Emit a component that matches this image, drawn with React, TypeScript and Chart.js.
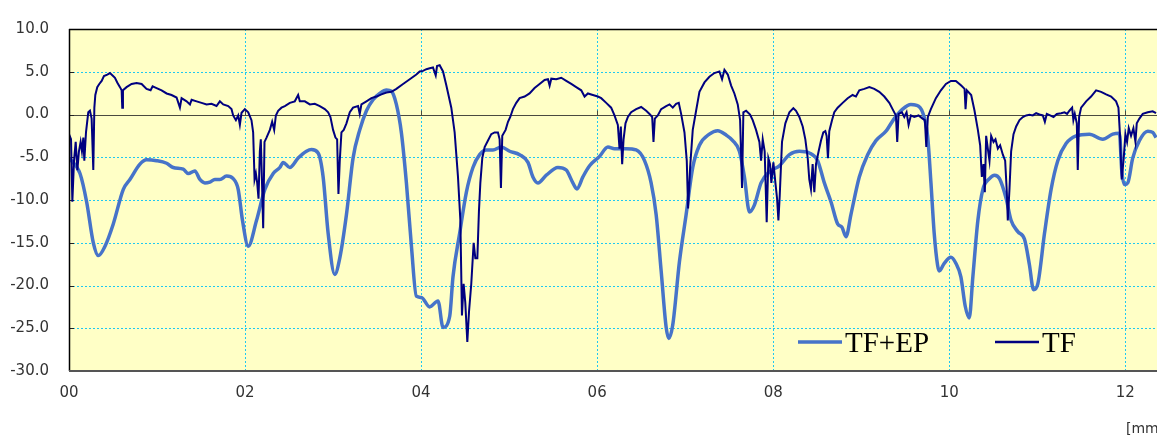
import { useEffect, useRef } from "react";
import { Chart, registerables } from "chart.js";

Chart.register(...registerables);

// Series names as shown in the legend
const seriesNames = ["TF+EP", "TF"];
const seriesColors = ["#4673C9", "#000080"];

// Axis ranges and steps
const xMin = 0;
const xMax = 12.36;
const xStep = 2;
const yMin = -30;
const yMax = 10;
const yStep = 5;
const xUnitLabel = "[mm]";

// TF+EP trace: [position, value]
const tfEpTrace: [number, number][] = [
  [0, -5.07], [0.125, -6.9], [0.2, -10.2], [0.276, -15.0], [0.333, -16.5],
  [0.409, -15.4], [0.503, -12.8], [0.617, -8.75], [0.692, -7.6], [0.806, -5.8],
  [0.882, -5.3], [0.995, -5.4], [1.109, -5.7], [1.184, -6.2], [1.298, -6.4],
  [1.355, -6.9], [1.43, -6.6], [1.487, -7.6], [1.544, -8.0], [1.6, -7.9],
  [1.657, -7.6], [1.714, -7.6], [1.79, -7.2], [1.865, -7.5], [1.922, -8.75],
  [1.971, -12.4], [2.036, -15.4], [2.13, -12.4], [2.225, -8.75], [2.32, -6.9],
  [2.395, -6.2], [2.433, -5.6], [2.508, -6.2], [2.603, -5.1], [2.698, -4.3],
  [2.754, -4.1], [2.83, -4.5], [2.887, -7.3], [2.944, -13.9], [3.019, -18.7],
  [3.076, -16.8], [3.152, -11.7], [3.227, -5.1], [3.303, -1.8], [3.379, 0.44],
  [3.454, 1.73], [3.53, 2.46], [3.606, 2.87], [3.663, 2.72], [3.719, 1.18],
  [3.776, -2.13], [3.833, -8.0], [3.89, -15.4], [3.946, -21.25], [4.003, -21.4],
  [4.097, -22.5], [4.192, -21.8], [4.249, -24.9], [4.325, -23.6], [4.362, -19.0],
  [4.438, -13.9], [4.514, -9.1], [4.589, -6.2], [4.665, -4.7], [4.741, -4.15],
  [4.816, -4.15], [4.911, -3.8], [5.006, -4.3], [5.119, -4.7], [5.214, -5.6],
  [5.27, -7.3], [5.327, -8.0], [5.422, -7.1], [5.554, -6.2], [5.649, -6.5],
  [5.724, -8.0], [5.77, -8.7], [5.838, -7.3], [5.914, -6.0], [6.027, -4.9],
  [6.122, -3.8], [6.197, -4.0], [6.33, -4.0], [6.443, -4.15], [6.538, -5.4],
  [6.613, -8.0], [6.67, -11.7], [6.727, -18.3], [6.784, -24.9], [6.814, -26.2],
  [6.859, -24.6], [6.935, -17.2], [7.011, -11.7], [7.086, -6.2], [7.162, -3.6],
  [7.275, -2.3], [7.37, -1.9], [7.465, -2.4], [7.54, -3.05], [7.616, -4.3],
  [7.673, -7.3], [7.73, -11.4], [7.786, -10.6], [7.862, -8.0], [7.957, -6.7],
  [8.07, -6.0], [8.184, -4.7], [8.297, -4.3], [8.41, -4.5], [8.505, -5.4],
  [8.581, -8.0], [8.656, -10.2], [8.732, -12.8], [8.781, -13.2], [8.827, -14.3],
  [8.883, -11.7], [8.978, -7.3], [9.073, -4.7], [9.167, -3.05], [9.281, -1.95],
  [9.375, -0.48], [9.47, 0.63], [9.564, 1.18], [9.621, 1.1], [9.697, 0.26],
  [9.754, -2.5], [9.792, -8.0], [9.829, -13.9], [9.867, -17.6], [9.886, -18.3],
  [9.943, -17.4], [10.019, -16.7], [10.075, -17.4], [10.132, -19.0], [10.181, -22.4],
  [10.227, -23.8], [10.268, -19.0], [10.325, -12.4], [10.382, -8.75], [10.457, -7.5],
  [10.514, -7.1], [10.571, -7.5], [10.647, -9.85], [10.703, -12.4], [10.779, -13.7],
  [10.855, -14.6], [10.911, -17.6], [10.957, -20.5], [11.006, -19.8], [11.082, -13.9],
  [11.157, -8.75], [11.233, -5.4], [11.327, -3.4], [11.441, -2.5], [11.592, -2.3],
  [11.744, -2.9], [11.857, -2.3], [11.933, -2.2], [11.959, -6.5], [11.99, -8.2],
  [12.028, -8.0], [12.084, -5.1], [12.16, -3.05], [12.255, -1.95], [12.311, -2.1],
  [12.349, -2.7],
];

// TF trace: [position, value]
const tfTrace: [number, number][] = [
  [0, -2.3], [0.023, -2.9], [0.038, -10.2], [0.057, -5.4], [0.076, -3.2],
  [0.095, -6.5], [0.113, -4.3], [0.132, -3.2], [0.147, -4.3], [0.163, -2.7],
  [0.174, -5.4], [0.193, -2.1], [0.219, 0.26], [0.238, 0.44], [0.257, -0.48],
  [0.276, -6.5], [0.288, 0.8], [0.299, 2.28], [0.321, 3.2], [0.344, 3.57],
  [0.371, 3.93], [0.397, 4.49], [0.435, 4.67], [0.465, 4.85], [0.495, 4.56],
  [0.522, 4.3], [0.548, 3.75], [0.579, 3.2], [0.598, 2.83], [0.605, 0.8],
  [0.613, 2.83], [0.654, 3.2], [0.711, 3.57], [0.768, 3.68], [0.825, 3.57],
  [0.881, 3.0], [0.927, 2.83], [0.95, 3.3], [0.995, 3.09], [1.052, 2.83],
  [1.109, 2.46], [1.165, 2.28], [1.222, 1.99], [1.26, 0.8], [1.279, 1.91],
  [1.336, 1.54], [1.374, 1.18], [1.393, 1.73], [1.45, 1.54], [1.506, 1.36],
  [1.563, 1.18], [1.619, 1.25], [1.676, 0.99], [1.714, 1.54], [1.752, 1.18],
  [1.809, 0.99], [1.846, 0.63], [1.865, -0.11], [1.896, -0.66], [1.922, -0.11],
  [1.941, -1.21], [1.96, 0.2], [1.998, 0.63], [2.036, 0.26], [2.073, -0.66],
  [2.092, -2.1], [2.108, -7.6], [2.123, -6.9], [2.138, -8.0], [2.153, -9.85],
  [2.168, -4.3], [2.179, -2.9], [2.191, -7.3], [2.206, -13.3], [2.221, -3.2],
  [2.244, -2.7], [2.282, -1.8], [2.308, -0.85], [2.331, -1.8], [2.35, -0.11],
  [2.376, 0.44], [2.414, 0.8], [2.452, 0.99], [2.509, 1.36], [2.565, 1.54],
  [2.603, 2.28], [2.622, 1.54], [2.679, 1.54], [2.736, 1.18], [2.792, 1.25],
  [2.849, 0.99], [2.906, 0.63], [2.944, 0.26], [2.97, -0.29], [3.0, -1.8],
  [3.027, -2.7], [3.046, -2.9], [3.061, -9.3], [3.076, -5.4], [3.095, -2.1],
  [3.121, -1.8], [3.152, -1.03], [3.19, 0.26], [3.227, 0.8], [3.284, 0.99],
  [3.303, 0.07], [3.322, 1.18], [3.379, 1.54], [3.435, 1.91], [3.492, 2.1],
  [3.549, 2.35], [3.606, 2.57], [3.663, 2.65], [3.719, 3.0], [3.795, 3.57],
  [3.871, 4.12], [3.946, 4.67], [3.984, 5.04], [4.022, 5.1], [4.06, 5.3],
  [4.098, 5.4], [4.135, 5.5], [4.166, 4.56], [4.181, 5.66], [4.211, 5.77],
  [4.249, 5.04], [4.287, 3.38], [4.343, 0.8], [4.381, -2.1], [4.419, -7.3],
  [4.446, -12.4], [4.464, -23.5], [4.483, -19.8], [4.502, -22.0], [4.525, -26.6],
  [4.544, -23.1], [4.57, -19.8], [4.597, -15.0], [4.616, -16.8], [4.639, -16.8],
  [4.657, -11.3], [4.673, -8.0], [4.695, -5.1], [4.722, -3.8], [4.76, -3.05],
  [4.797, -2.3], [4.835, -2.1], [4.873, -2.1], [4.892, -2.9], [4.907, -8.6],
  [4.922, -2.5], [4.96, -1.8], [4.987, -0.85], [5.013, -0.29], [5.043, 0.63],
  [5.081, 1.36], [5.119, 1.91], [5.176, 2.1], [5.232, 2.46], [5.289, 3.09],
  [5.346, 3.57], [5.403, 4.04], [5.441, 4.12], [5.46, 3.38], [5.479, 4.19],
  [5.535, 4.12], [5.592, 4.3], [5.649, 3.93], [5.706, 3.57], [5.762, 3.2],
  [5.819, 2.83], [5.857, 2.1], [5.895, 2.46], [5.951, 2.28], [6.008, 2.1],
  [6.046, 1.91], [6.103, 1.36], [6.159, 0.8], [6.197, -0.11], [6.235, -1.21],
  [6.254, -4.0], [6.269, -1.4], [6.284, -5.8], [6.3, -2.9], [6.322, -1.03],
  [6.349, -0.29], [6.386, 0.26], [6.443, 0.63], [6.5, 0.88], [6.557, 0.44],
  [6.595, 0.07], [6.625, -0.29], [6.64, -3.2], [6.655, -0.48], [6.689, -0.11],
  [6.727, 0.63], [6.784, 0.99], [6.822, 1.18], [6.859, 0.8], [6.897, 1.25],
  [6.927, 1.36], [6.954, 0.07], [6.992, -2.1], [7.018, -5.4], [7.033, -11.0],
  [7.056, -6.2], [7.086, -1.8], [7.124, 0.44], [7.162, 2.65], [7.219, 3.75],
  [7.275, 4.41], [7.332, 4.85], [7.389, 5.04], [7.419, 4.12], [7.446, 5.22],
  [7.484, 4.67], [7.522, 3.38], [7.559, 2.46], [7.597, 1.18], [7.624, -0.66],
  [7.646, -8.6], [7.661, 0.26], [7.692, 0.44], [7.737, 0], [7.767, -0.66],
  [7.805, -1.8], [7.843, -3.2], [7.862, -5.4], [7.881, -2.9], [7.903, -4.3],
  [7.926, -12.6], [7.945, -5.1], [7.964, -5.8], [7.979, -8.0], [8.002, -5.6],
  [8.025, -8.0], [8.044, -9.85], [8.059, -12.4], [8.074, -9.5], [8.1, -3.2],
  [8.138, -1.03], [8.184, 0.26], [8.229, 0.74], [8.259, 0.44], [8.297, -0.29],
  [8.335, -1.4], [8.365, -2.9], [8.392, -5.1], [8.41, -7.6], [8.429, -8.75],
  [8.448, -5.8], [8.467, -9.1], [8.486, -5.8], [8.516, -4.3], [8.543, -3.05],
  [8.569, -2.1], [8.592, -1.95], [8.607, -2.5], [8.622, -5.1], [8.637, -1.95],
  [8.668, -0.66], [8.694, 0.26], [8.732, 0.8], [8.789, 1.36], [8.846, 1.91],
  [8.902, 2.28], [8.94, 2.1], [8.978, 2.83], [9.035, 3.0], [9.092, 3.2],
  [9.148, 3.0], [9.205, 2.65], [9.262, 2.1], [9.319, 1.36], [9.356, 0.63],
  [9.394, -0.11], [9.409, -3.2], [9.424, 0.07], [9.462, 0.26], [9.489, -0.29],
  [9.515, 0.26], [9.538, -1.21], [9.564, -0.11], [9.602, -0.29], [9.651, -0.11],
  [9.697, -0.48], [9.723, -0.66], [9.739, -3.8], [9.757, -0.29], [9.791, 0.63],
  [9.848, 1.91], [9.905, 2.83], [9.962, 3.57], [10.019, 3.93], [10.075, 3.93],
  [10.136, 3.38], [10.174, 3.0], [10.185, 0.63], [10.2, 2.83], [10.249, 2.28],
  [10.287, 0.44], [10.325, -1.8], [10.351, -3.6], [10.37, -7.3], [10.389, -5.8],
  [10.404, -9.1], [10.419, -2.5], [10.438, -4.0], [10.457, -5.4], [10.476, -2.5],
  [10.503, -3.2], [10.525, -2.9], [10.552, -4.0], [10.578, -3.6], [10.609, -4.7],
  [10.635, -5.4], [10.654, -9.1], [10.665, -12.4], [10.684, -8.75], [10.703, -4.3],
  [10.73, -2.3], [10.76, -1.4], [10.798, -0.66], [10.836, -0.29], [10.874, -0.11],
  [10.911, -0.04], [10.949, -0.11], [10.987, 0.15], [11.025, 0], [11.063, -0.11],
  [11.086, -0.85], [11.108, 0.07], [11.146, -0.11], [11.184, -0.29], [11.222, 0.07],
  [11.271, 0.15], [11.309, 0.26], [11.339, 0.07], [11.365, 0.44], [11.396, 0.8],
  [11.41, -0.66], [11.426, 0.07], [11.449, -1.03], [11.46, -6.5], [11.475, -0.29],
  [11.498, 0.8], [11.555, 1.54], [11.611, 2.1], [11.668, 2.83], [11.725, 2.65],
  [11.782, 2.35], [11.839, 2.1], [11.895, 1.54], [11.922, 0.8], [11.94, -2.5],
  [11.959, -7.6], [11.982, -5.1], [12.001, -2.3], [12.02, -3.2], [12.039, -1.6],
  [12.065, -2.5], [12.092, -1.6], [12.115, -3.2], [12.13, -1.03], [12.16, -0.48],
  [12.198, 0.07], [12.255, 0.26], [12.311, 0.37], [12.349, 0.15],
];

const WIDTH = 1157;
const HEIGHT = 439;
const PLOT_BG = "#FFFFC6";
const GRID_COLOR = "#1EC8F2";
const TICK_FONT = "'DejaVu Sans', sans-serif";
const LEGEND_FONT = "'Liberation Serif', 'Times New Roman', serif";

function line(ctx: CanvasRenderingContext2D, x1: number, y1: number, x2: number, y2: number) {
  ctx.beginPath();
  ctx.moveTo(x1, y1);
  ctx.lineTo(x2, y2);
  ctx.stroke();
}

const plotDecor = {
  id: "plotDecor",
  beforeDraw(chart: any) {
    const { ctx, chartArea: a } = chart;
    ctx.save();
    ctx.fillStyle = PLOT_BG;
    ctx.fillRect(a.left, a.top, a.right - a.left, a.bottom - a.top);
    ctx.restore();
  },
  beforeDatasetsDraw(chart: any) {
    const { ctx, chartArea: a } = chart;
    const xs = chart.scales.x;
    const ys = chart.scales.y;
    ctx.save();
    // dotted grid
    ctx.strokeStyle = GRID_COLOR;
    ctx.lineWidth = 1;
    ctx.setLineDash([2, 2]);
    for (const t of ys.ticks) {
      if (t.value === 0 || t.value <= yMin || t.value >= yMax) continue;
      const py = Math.round(ys.getPixelForValue(t.value)) + 0.5;
      line(ctx, a.left, py, a.right, py);
    }
    for (const t of xs.ticks) {
      if (t.value <= xMin) continue;
      const px = Math.round(xs.getPixelForValue(t.value)) + 0.5;
      line(ctx, px, a.top, px, a.bottom);
    }
    ctx.setLineDash([]);
    // zero line
    const zy = Math.round(ys.getPixelForValue(0)) + 0.5;
    ctx.strokeStyle = "#4a4a40";
    ctx.lineWidth = 1.2;
    line(ctx, a.left, zy, a.right, zy);
    // small marks on the zero line
    ctx.lineWidth = 1;
    for (const t of xs.ticks) {
      const px = Math.round(xs.getPixelForValue(t.value)) + 0.5;
      line(ctx, px, zy - 5, px, zy);
    }
    // inward marks on the value axis
    ctx.strokeStyle = "#222";
    for (const t of ys.ticks) {
      const py = Math.round(ys.getPixelForValue(t.value)) + 0.5;
      line(ctx, a.left, py, a.left + 5, py);
    }
    ctx.restore();
  },
  afterDatasetsDraw(chart: any) {
    const { ctx, chartArea: a } = chart;
    ctx.save();
    ctx.strokeStyle = "#000";
    ctx.lineWidth = 1.5;
    line(ctx, a.left, a.top + 0.5, a.right, a.top + 0.5);
    line(ctx, a.left + 0.5, a.top, a.left + 0.5, a.bottom);
    ctx.strokeStyle = "#555";
    ctx.lineWidth = 2;
    line(ctx, a.left, a.bottom, a.right, a.bottom);
    ctx.restore();
  },
  afterDraw(chart: any) {
    const { ctx } = chart;
    ctx.save();
    // legend inside the plot
    const entries = [
      { x: 798, label: seriesNames[0], color: seriesColors[0], width: 3.5 },
      { x: 995, label: seriesNames[1], color: seriesColors[1], width: 2.5 },
    ];
    ctx.font = `29px ${LEGEND_FONT}`;
    ctx.textBaseline = "alphabetic";
    ctx.textAlign = "left";
    for (const e of entries) {
      ctx.strokeStyle = e.color;
      ctx.lineWidth = e.width;
      line(ctx, e.x, 342, e.x + 44, 342);
      ctx.fillStyle = "#000";
      ctx.fillText(e.label, e.x + 47, 352);
    }
    // unit label
    ctx.font = `14px ${TICK_FONT}`;
    ctx.fillStyle = "#333";
    ctx.textBaseline = "middle";
    ctx.fillText(xUnitLabel, 1126, 429);
    ctx.restore();
  },
};

export default function App() {
  const canvasRef = useRef<HTMLCanvasElement | null>(null);

  useEffect(() => {
    document.body.style.margin = "0";
    const canvas = canvasRef.current;
    if (!canvas) return;
    const chart = new Chart(canvas, {
      type: "line",
      data: {
        datasets: [
          {
            label: seriesNames[1],
            data: tfTrace.map(([x, y]) => ({ x, y })),
            borderColor: seriesColors[1],
            borderWidth: 2,
            pointRadius: 0,
            tension: 0,
          },
          {
            label: seriesNames[0],
            data: tfEpTrace.map(([x, y]) => ({ x, y })),
            borderColor: seriesColors[0],
            borderWidth: 3.5,
            pointRadius: 0,
            cubicInterpolationMode: "monotone",
          },
        ],
      },
      options: {
        animation: false,
        responsive: false,
        devicePixelRatio: 1,
        parsing: false,
        layout: { padding: { top: 10, right: 0, left: 0, bottom: 0 } },
        plugins: { legend: { display: false }, tooltip: { enabled: false } },
        scales: {
          x: {
            type: "linear",
            min: xMin,
            max: xMax,
            grid: { display: false, drawTicks: false },
            border: { display: false },
            afterFit: (s: any) => {
              s.height = 68;
            },
            ticks: {
              stepSize: xStep,
              includeBounds: false,
              padding: 13,
              color: "#333",
              font: { family: TICK_FONT, size: 15 },
              maxRotation: 0,
              autoSkip: false,
              callback: (v: any) => String(Math.round(Number(v))).padStart(2, "0"),
            },
          },
          y: {
            type: "linear",
            min: yMin,
            max: yMax,
            grid: { display: false, drawTicks: false },
            border: { display: false },
            afterFit: (s: any) => {
              s.width = 69;
            },
            ticks: {
              stepSize: yStep,
              padding: 20,
              color: "#333",
              font: { family: TICK_FONT, size: 15 },
              callback: (v: any) => Number(v).toFixed(1),
            },
          },
        },
      },
      plugins: [plotDecor],
    });
    return () => chart.destroy();
  }, []);

  return (
    <div style={{ position: "fixed", left: 0, top: 0, width: WIDTH, height: HEIGHT, background: "#fff" }}>
      <canvas ref={canvasRef} width={WIDTH} height={HEIGHT} style={{ width: WIDTH, height: HEIGHT }} />
    </div>
  );
}
